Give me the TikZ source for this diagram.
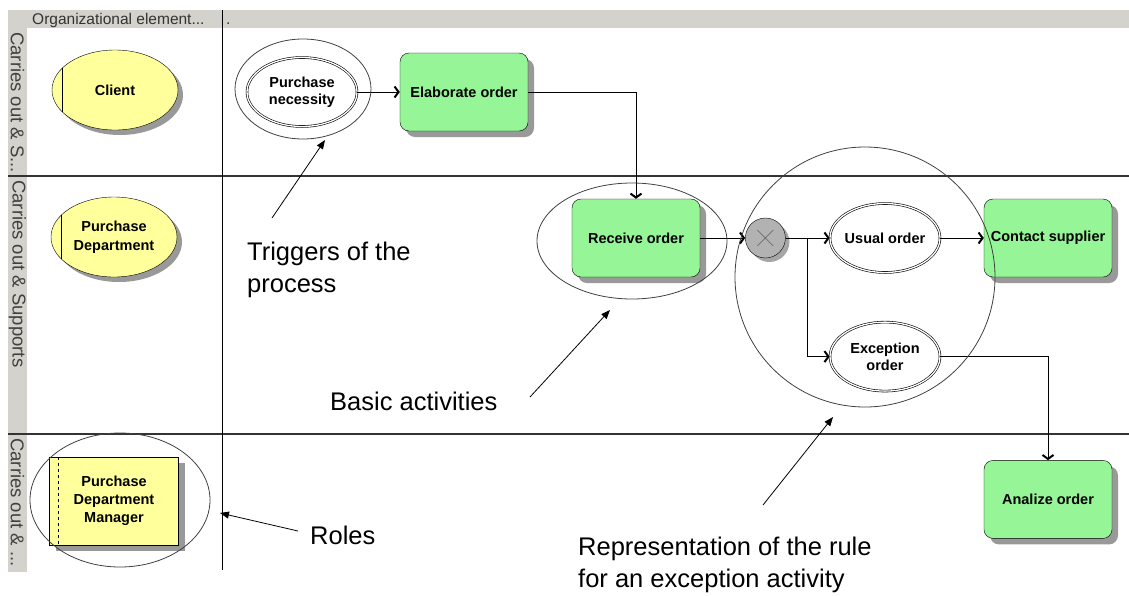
\documentclass[tikz,border=0pt]{standalone}
\usepackage{fontspec}
\setmainfont{Liberation Sans}
\usepackage{xcolor}
\definecolor{actgreen}{RGB}{150,245,150}
\definecolor{orgyellow}{RGB}{255,255,155}
\definecolor{bargray}{RGB}{212,210,204}
\definecolor{xorgray}{RGB}{178,178,178}
\usetikzlibrary{arrows.meta,positioning,shapes.geometric,shadows,calc}
\tikzset{
  orgunit/.style={ellipse,draw,fill=orgyellow,minimum width=126pt,minimum height=80pt,%
    inner sep=0pt,font=\fontsize{14.5}{18.5}\selectfont\bfseries,align=center,%
    drop shadow={shadow xshift=5pt,shadow yshift=-5pt,fill=black!40,opacity=1}},
  orgrole/.style={rectangle,draw,fill=orgyellow,minimum width=129pt,minimum height=88pt,%
    inner sep=0pt,font=\fontsize{14.5}{18}\selectfont\bfseries,align=center,%
    drop shadow={shadow xshift=6pt,shadow yshift=-6pt,fill=black!40,opacity=1}},
  activity/.style={rectangle,rounded corners=9pt,draw,fill=actgreen,minimum width=128pt,%
    minimum height=78pt,inner sep=0pt,font=\fontsize{14.5}{18}\selectfont\bfseries,align=center,%
    drop shadow={shadow xshift=6pt,shadow yshift=-6pt,fill=black!40,opacity=1}},
  event/.style={ellipse,draw,double,double distance=1.3pt,line width=0.6pt,fill=white,%
    minimum width=110pt,minimum height=69pt,inner sep=-2pt,%
    font=\fontsize{14.5}{17}\selectfont\bfseries,align=center},
  xorgate/.style={circle,draw,fill=xorgray,minimum size=40pt,inner sep=0pt,%
    drop shadow={shadow xshift=4pt,shadow yshift=-4pt,fill=black!35,opacity=1}},
  flow/.style={draw=black,line width=0.8pt,-{Straight Barb[length=4pt,width=11pt,line width=2pt]}},
  link/.style={draw=black,line width=0.8pt},
  ring/.style={draw=black!75,line width=0.8pt,inner sep=0pt},
  note/.style={font=\fontsize{25.5}{32}\selectfont,inner sep=0pt,align=left},
  pointer/.style={draw=black,line width=0.8pt,-{Triangle[length=9pt,width=7pt]}},
  lanelbl/.style={rotate=-90,anchor=west,inner sep=0pt,font=\fontsize{18.5}{18.5}\selectfont,text=black!75},
}
\begin{document}
\begin{tikzpicture}[x=1pt,y=-1pt]
\useasboundingbox (0,0) rectangle (1129,595);
% lanes
\fill[bargray] (8,10) rectangle (1129,28);
\fill[bargray] (8,28) rectangle (27,572);
\draw[black!80,line width=1.1pt] (8,176) -- (1129,176);
\draw[black!80,line width=1.1pt] (8,434) -- (1129,434);
\draw[black,line width=1pt] (222,10) -- (222,570);
\node[anchor=base west,inner sep=0pt,font=\fontsize{15.5}{15.5}\selectfont,text=black!80] (hdr) at (32,24)
  {Organizational element...};
\node[anchor=base west,inner sep=0pt,font=\fontsize{15.5}{15.5}\selectfont,text=black!80] (hdrdot) at (226,24) {.};
\node[lanelbl] (lane1) at (17.5,32) {Carries out \& S...};
\node[lanelbl] (lane2) at (17.5,180) {Carries out \& Supports};
\node[lanelbl] (lane3) at (17.5,438) {Carries out \& ...};
% organisation
\node[orgunit] (cli) at (115,90) {Client};
\node[orgunit] (pdep) at (114,237) {Purchase\\Department};
\node[orgrole] (mgr) at (114,501) {Purchase\\Department\\Manager};
\draw (cli.157) -- (cli.203);
\draw (pdep.157) -- (pdep.203);
\draw[dashed] ([xshift=9pt]mgr.north west) -- ([xshift=9pt]mgr.south west);
% process
\node[event] (need) at (302,92) {Purchase\\necessity};
\node[activity] (elab) at (464,92) {Elaborate order};
\node[activity] (recv) at (636,238) {Receive order};
\node[xorgate,right=45pt of recv] (xor) {};
\draw[black!75] ([shift={(-8,-8)}]xor.center) -- ([shift={(8,8)}]xor.center);
\draw[black!75] ([shift={(-8,8)}]xor.center) -- ([shift={(8,-8)}]xor.center);
\node[event] (usual) at (885,238) {Usual order};
\node[event,below=49pt of usual] (exc) {Exception\\order};
\node[activity] (cont) at (1048,238) {Contact supplier};
\node[activity,below=183pt of cont] (anal) {Analize order};
\coordinate (split) at (807,238);
\draw[flow] (need) -- (elab);
\draw[flow] (elab.east) -| (recv.north);
\draw[flow] (recv) -- (xor);
\draw[link] (xor) -- (split);
\draw[flow] (split) -- (usual);
\draw[flow] (split) |- (exc);
\draw[flow] (usual) -- (cont);
\draw[flow] (exc.east) -| (anal.north);
% highlight rings
\node[ring,ellipse,minimum width=136pt,minimum height=100pt] (needring) at (303,89) {};
\node[ring,ellipse,minimum width=190pt,minimum height=116pt] (recvring) at (632,241) {};
\node[ring,circle,minimum size=260pt] (xorring) at (865,277) {};
\node[ring,ellipse,minimum width=180pt,minimum height=134pt] (mgrring) at (120,500) {};
% notes
\node[note,anchor=north west] (trignote) at (247,242) {Triggers of the\\process};
\node[note,anchor=base west] (basicnote) at (330,410) {Basic activities};
\node[note,anchor=base west] (rolenote) at (310,544) {Roles};
\node[note,anchor=north west] (rulenote) at (578,537) {Representation of the rule\\for an exception activity};
\coordinate (trigtail) at (272,218);
\coordinate (trighead) at (325,140);
\coordinate (basictail) at (530,397);
\coordinate (basichead) at (610,310);
\coordinate (roletail) at (298,531);
\coordinate (rolehead) at (220,513);
\coordinate (ruletail) at (763,505);
\coordinate (rulehead) at (833,417);
\draw[pointer] (trigtail) -- (trighead);
\draw[pointer] (basictail) -- (basichead);
\draw[pointer] (roletail) -- (rolehead);
\draw[pointer] (ruletail) -- (rulehead);
\end{tikzpicture}
\end{document}
